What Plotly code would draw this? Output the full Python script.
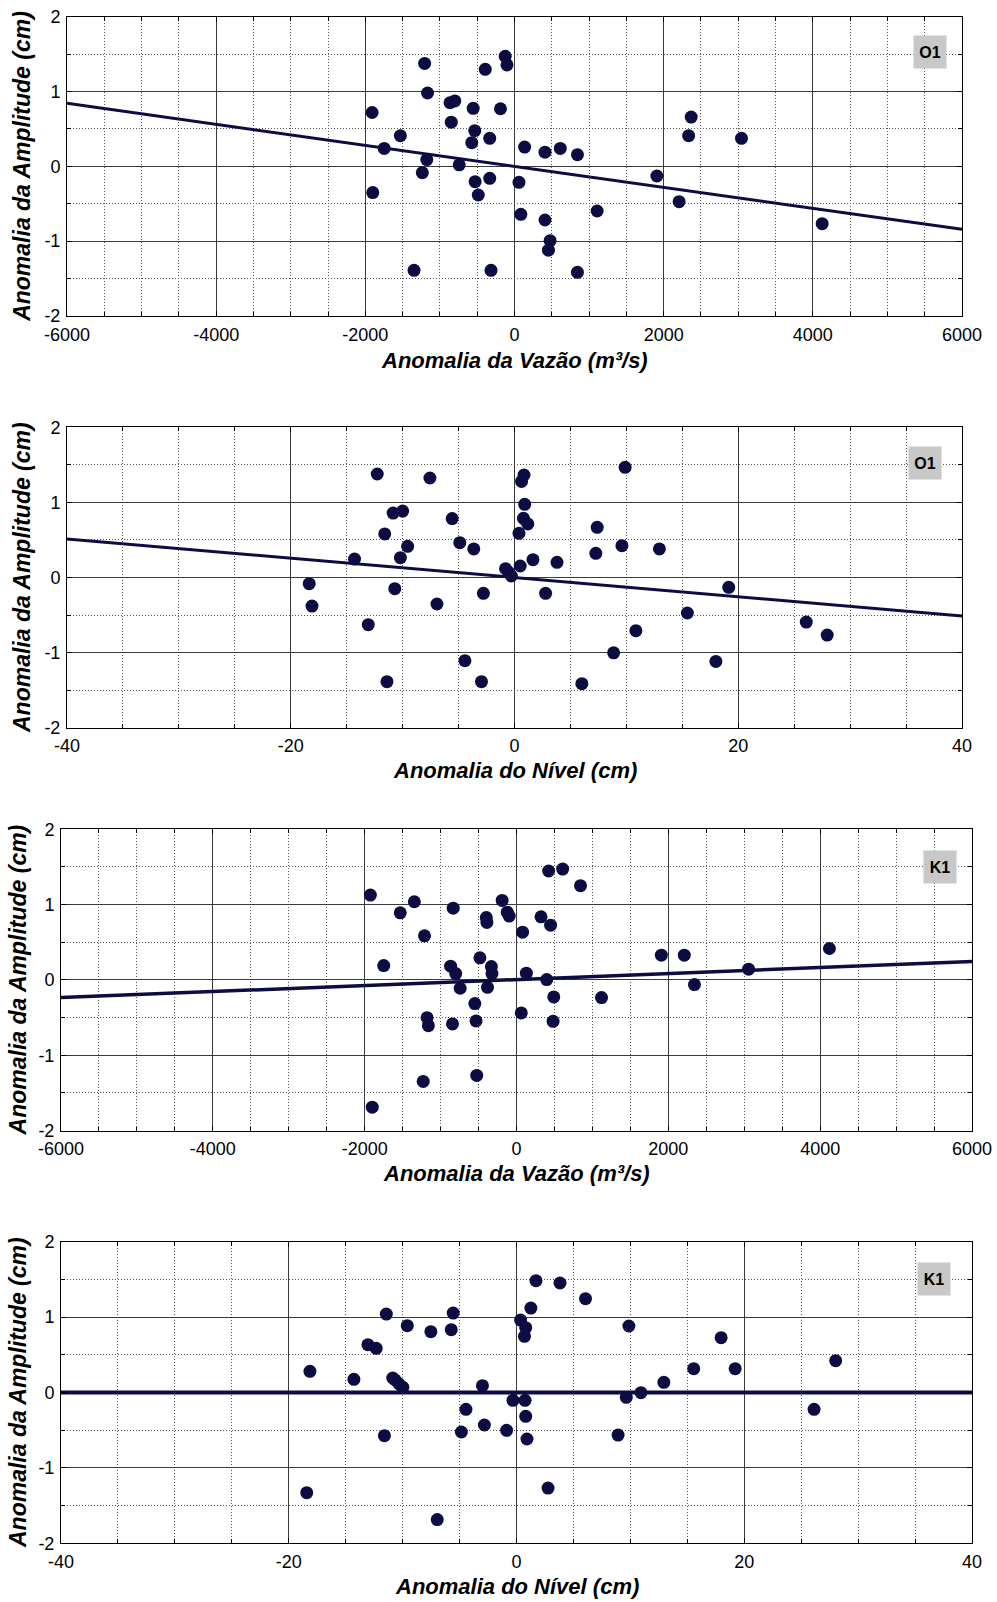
import plotly.graph_objects as go

# ---------------- data ----------------
# Panel 1: O1 amplitude anomaly vs discharge anomaly
p1_x = [-1909, -1900, -1747, -1530, -1347, -1205, -1166, -1176, -1236, -865,
        -800, -848, -741, -554, -533, -573, -528, -486, -392, -332,
        -332, -315, -188, -125, -101, 60, 85, 136, 409, 409,
        477, 455, 614, 844, 844, 1108, 1909, 2207, 2335, 2369,
        3043, 4125]
p1_y = [0.72, -0.35, 0.24, 0.41, -1.39, 1.375, 0.98, 0.09, -0.085, 0.85,
        0.875, 0.59, 0.02, 0.775, 0.477, 0.316, -0.205, -0.383, 1.297, 0.375,
        -0.16, -1.39, 0.77, 1.47, 1.355, -0.214, -0.641, 0.258, 0.19, -0.717,
        -0.993, -1.12, 0.24, 0.156, -1.416, -0.597, -0.129, -0.472, 0.41, 0.659,
        0.374, -0.766]

# Panel 2: O1 amplitude anomaly vs level anomaly
p2_x = [-18.35, -18.1, -14.3, -13.07, -12.27, -11.6, -11.4, -10.85, -10.7, -10.0,
        -10.2, -9.55, -7.56, -6.93, -5.57, -4.89, -4.43, -3.64, -2.95, -2.78,
        -0.8, -0.51, -0.28, 0.4, 0.51, 0.63, 0.85, 0.91, 0.8, 1.19,
        1.65, 2.78, 3.8, 6.02, 7.27, 7.39, 8.86, 9.6, 9.89, 10.85,
        12.95, 15.45, 18.0, 19.15, 26.08, 27.95]
p2_y = [-0.082, -0.38, 0.246, -0.628, 1.378, 0.58, -1.387, 0.858, -0.149, 0.885,
        0.264, 0.415, 1.325, -0.353, 0.784, 0.464, -1.108, 0.38, -1.387, -0.211,
        0.118, 0.069, 0.02, 0.588, 0.153, 1.279, 1.365, 0.974, 0.788, 0.713,
        0.238, -0.211, 0.202, -1.414, 0.322, 0.668, -1.003, 0.424, 1.467, -0.708,
        0.38, -0.473, -1.117, -0.131, -0.593, -0.766]

# Panel 3: K1 amplitude anomaly vs discharge anomaly
p3_x = [-1925, -1900, -1749, -1531, -1346, -1212, -1178, -1161, -1229, -868,
        -834, -801, -742, -843, -549, -533, -524, -482, -398, -390,
        -382, -331, -323, -189, -122, -96, 63, 80, 130, 323,
        398, 423, 449, 491, 482, 608, 843, 1120, 1908, 2210,
        2344, 3057, 4122]
p3_y = [1.126, -1.69, 0.19, 0.891, 1.038, 0.585, -0.501, -0.608, -1.348, 0.182,
        0.953, 0.084, -0.111, -0.585, -0.315, -0.545, -1.268, 0.293, 0.829, 0.763,
        -0.098, 0.177, 0.084, 1.055, 0.9, 0.847, -0.439, 0.634, 0.089, 0.838,
        0.004, 1.446, 0.727, -0.226, -0.55, 1.472, 1.251, -0.235, 0.328, 0.328,
        -0.062, 0.142, 0.417]

# Panel 4: K1 amplitude anomaly vs level anomaly
p4_x = [-18.42, -18.14, -14.28, -13.05, -12.32, -11.6, -11.43, -10.87, -10.65, -10.31,
        -9.98, -9.59, -7.52, -6.96, -5.73, -5.56, -4.84, -4.44, -2.99, -2.82,
        -0.87, -0.31, 0.36, 0.7, 0.81, 0.75, 0.81, 0.92, 1.26, 1.71,
        2.77, 3.82, 6.06, 8.92, 9.64, 9.87, 10.93, 12.94, 15.56, 17.97,
        19.2, 26.13, 28.03]
p4_y = [-1.329, 0.281, 0.175, 0.634, 0.586, -0.572, 1.04, 0.192, 0.166, 0.113,
        0.069, 0.886, 0.807, -1.686, 0.833, 1.054, -0.524, -0.223, 0.091, -0.431,
        -0.502, -0.104, 0.961, 0.745, 0.86, -0.104, -0.316, -0.617, 1.12, 1.483,
        -1.267, 1.452, 1.244, -0.564, -0.064, 0.882, -0.002, 0.135, 0.316, 0.727,
        0.316, -0.223, 0.422]

# fitted lines (slope, intercept)
fits = [(-1.403e-4, 0.0), (-0.01283, 0.0), (3.99e-5, 0.0045), (0.0, 0.0)]
labels = ["O1", "O1", "K1", "K1"]

vazao_ticks = [-6000, -4000, -2000, 0, 2000, 4000, 6000]
vazao_ticktext = ["-6000", "-4000", "-2000", "0", "2000", "4000", "6000"]
nivel_ticks = [-40, -20, 0, 20, 40]
nivel_ticktext = ["-40", "-20", "0", "20", "40"]
amp_ticks = [-2, -1, 0, 1, 2]
amp_ticktext = ["-2", "-1", "0", "1", "2"]

title_vazao = "Anomalia da Vazão (m³/s)"
title_nivel = "Anomalia do Nível (cm)"
title_amp = "Anomalia da Amplitude (cm)"

# ---------------- styling ----------------
W, H = 997, 1602
NAVY = "#0c0c42"
FONT = "Liberation Sans, Arial, sans-serif"

# panel pixel boxes: (left, right, top, bottom)
boxes = [(67, 962, 16.7, 316.0), (67, 962, 427.3, 727.7),
         (61, 972, 829.3, 1130.5), (61, 972, 1241.7, 1543.3)]
xtitle_y = [360, 770, 1173, 1586]
ytitle_x = [22.5, 22.5, 17.5, 17.5]
label_pos = [(5571, 1.53), (36.7, 1.53), (5572, 1.50), (36.65, 1.50)]
line_w = [3, 3, 3.5, 4]

panels = [
    (p1_x, p1_y, vazao_ticks, vazao_ticktext, (-6000, 6000), 500, title_vazao),
    (p2_x, p2_y, nivel_ticks, nivel_ticktext, (-40, 40), 5, title_nivel),
    (p3_x, p3_y, vazao_ticks, vazao_ticktext, (-6000, 6000), 500, title_vazao),
    (p4_x, p4_y, nivel_ticks, nivel_ticktext, (-40, 40), 5, title_nivel),
]

fig = go.Figure()
annotations = []
layout = {}

for i, (px, py, xt, xtt, xr, xminor, xtitle) in enumerate(panels):
    n = i + 1
    xa = "x" if n == 1 else f"x{n}"
    ya = "y" if n == 1 else f"y{n}"
    left, right, top, bottom = boxes[i]
    xdom = [left / W, right / W]
    ydom = [1 - bottom / H, 1 - top / H]

    slope, icpt = fits[i]
    fig.add_trace(go.Scatter(
        x=[xr[0], xr[1]], y=[icpt + slope * xr[0], icpt + slope * xr[1]],
        mode="lines", line=dict(color=NAVY, width=line_w[i]),
        xaxis=xa, yaxis=ya, showlegend=False, hoverinfo="skip"))
    fig.add_trace(go.Scatter(
        x=px, y=py, mode="markers",
        marker=dict(color=NAVY, size=13, line=dict(width=0)),
        xaxis=xa, yaxis=ya, showlegend=False))

    common = dict(showline=True, linecolor="black", linewidth=1, mirror="ticks",
                  ticks="inside", ticklen=5, tickcolor="black",
                  showgrid=True, gridcolor="#3a3a3a", gridwidth=1,
                  zeroline=False, fixedrange=True, automargin=False,
                  tickfont=dict(family=FONT, size=18, color="black"))
    layout["xaxis" if n == 1 else f"xaxis{n}"] = dict(
        domain=xdom, anchor=ya, range=list(xr),
        tickmode="array", tickvals=xt, ticktext=xtt,
        minor=dict(dtick=xminor, tick0=0, showgrid=True, griddash="1px,2px",
                   gridcolor="#555555", gridwidth=1, ticks="inside",
                   ticklen=4, tickcolor="black"),
        ticklabelstandoff=2,
        **common)
    layout["yaxis" if n == 1 else f"yaxis{n}"] = dict(
        domain=ydom, anchor=xa, range=[-2, 2],
        tickmode="array", tickvals=amp_ticks, ticktext=amp_ticktext,
        minor=dict(dtick=0.5, tick0=0, showgrid=True, griddash="1px,2px",
                   gridcolor="#555555", gridwidth=1, ticks="inside",
                   ticklen=4, tickcolor="black"),
        ticklabelstandoff=2,
        **common)

    # panel label box
    lx, lyv = label_pos[i]
    annotations.append(dict(
        x=lx, y=lyv, xref=xa, yref=ya, text=f"<b>{labels[i]}</b>",
        showarrow=False, bgcolor="#c8c8c8", borderpad=5,
        width=22, height=22,
        font=dict(family=FONT, size=16, color="black")))
    # axis titles
    annotations.append(dict(
        x=(left + right) / 2 / W, y=1 - xtitle_y[i] / H, xref="paper", yref="paper",
        text=xtitle, showarrow=False, xanchor="center", yanchor="middle",
        font=dict(family=FONT, size=22, color="black", weight="bold", style="italic")))
    annotations.append(dict(
        x=ytitle_x[i] / W, y=1 - (top + bottom) / 2 / H, xref="paper", yref="paper",
        text=title_amp, showarrow=False, textangle=-90,
        xanchor="center", yanchor="middle",
        font=dict(family=FONT, size=23, color="black", weight="bold", style="italic")))

fig.update_layout(
    width=W, height=H,
    margin=dict(l=0, r=0, t=0, b=0, autoexpand=False),
    paper_bgcolor="white", plot_bgcolor="white",
    annotations=annotations,
    **layout)

fig.write_html("out.html",
               config={"displayModeBar": False, "staticPlot": True},
               post_script="document.body.style.margin='0';"
                           "document.body.style.overflow='hidden';")
